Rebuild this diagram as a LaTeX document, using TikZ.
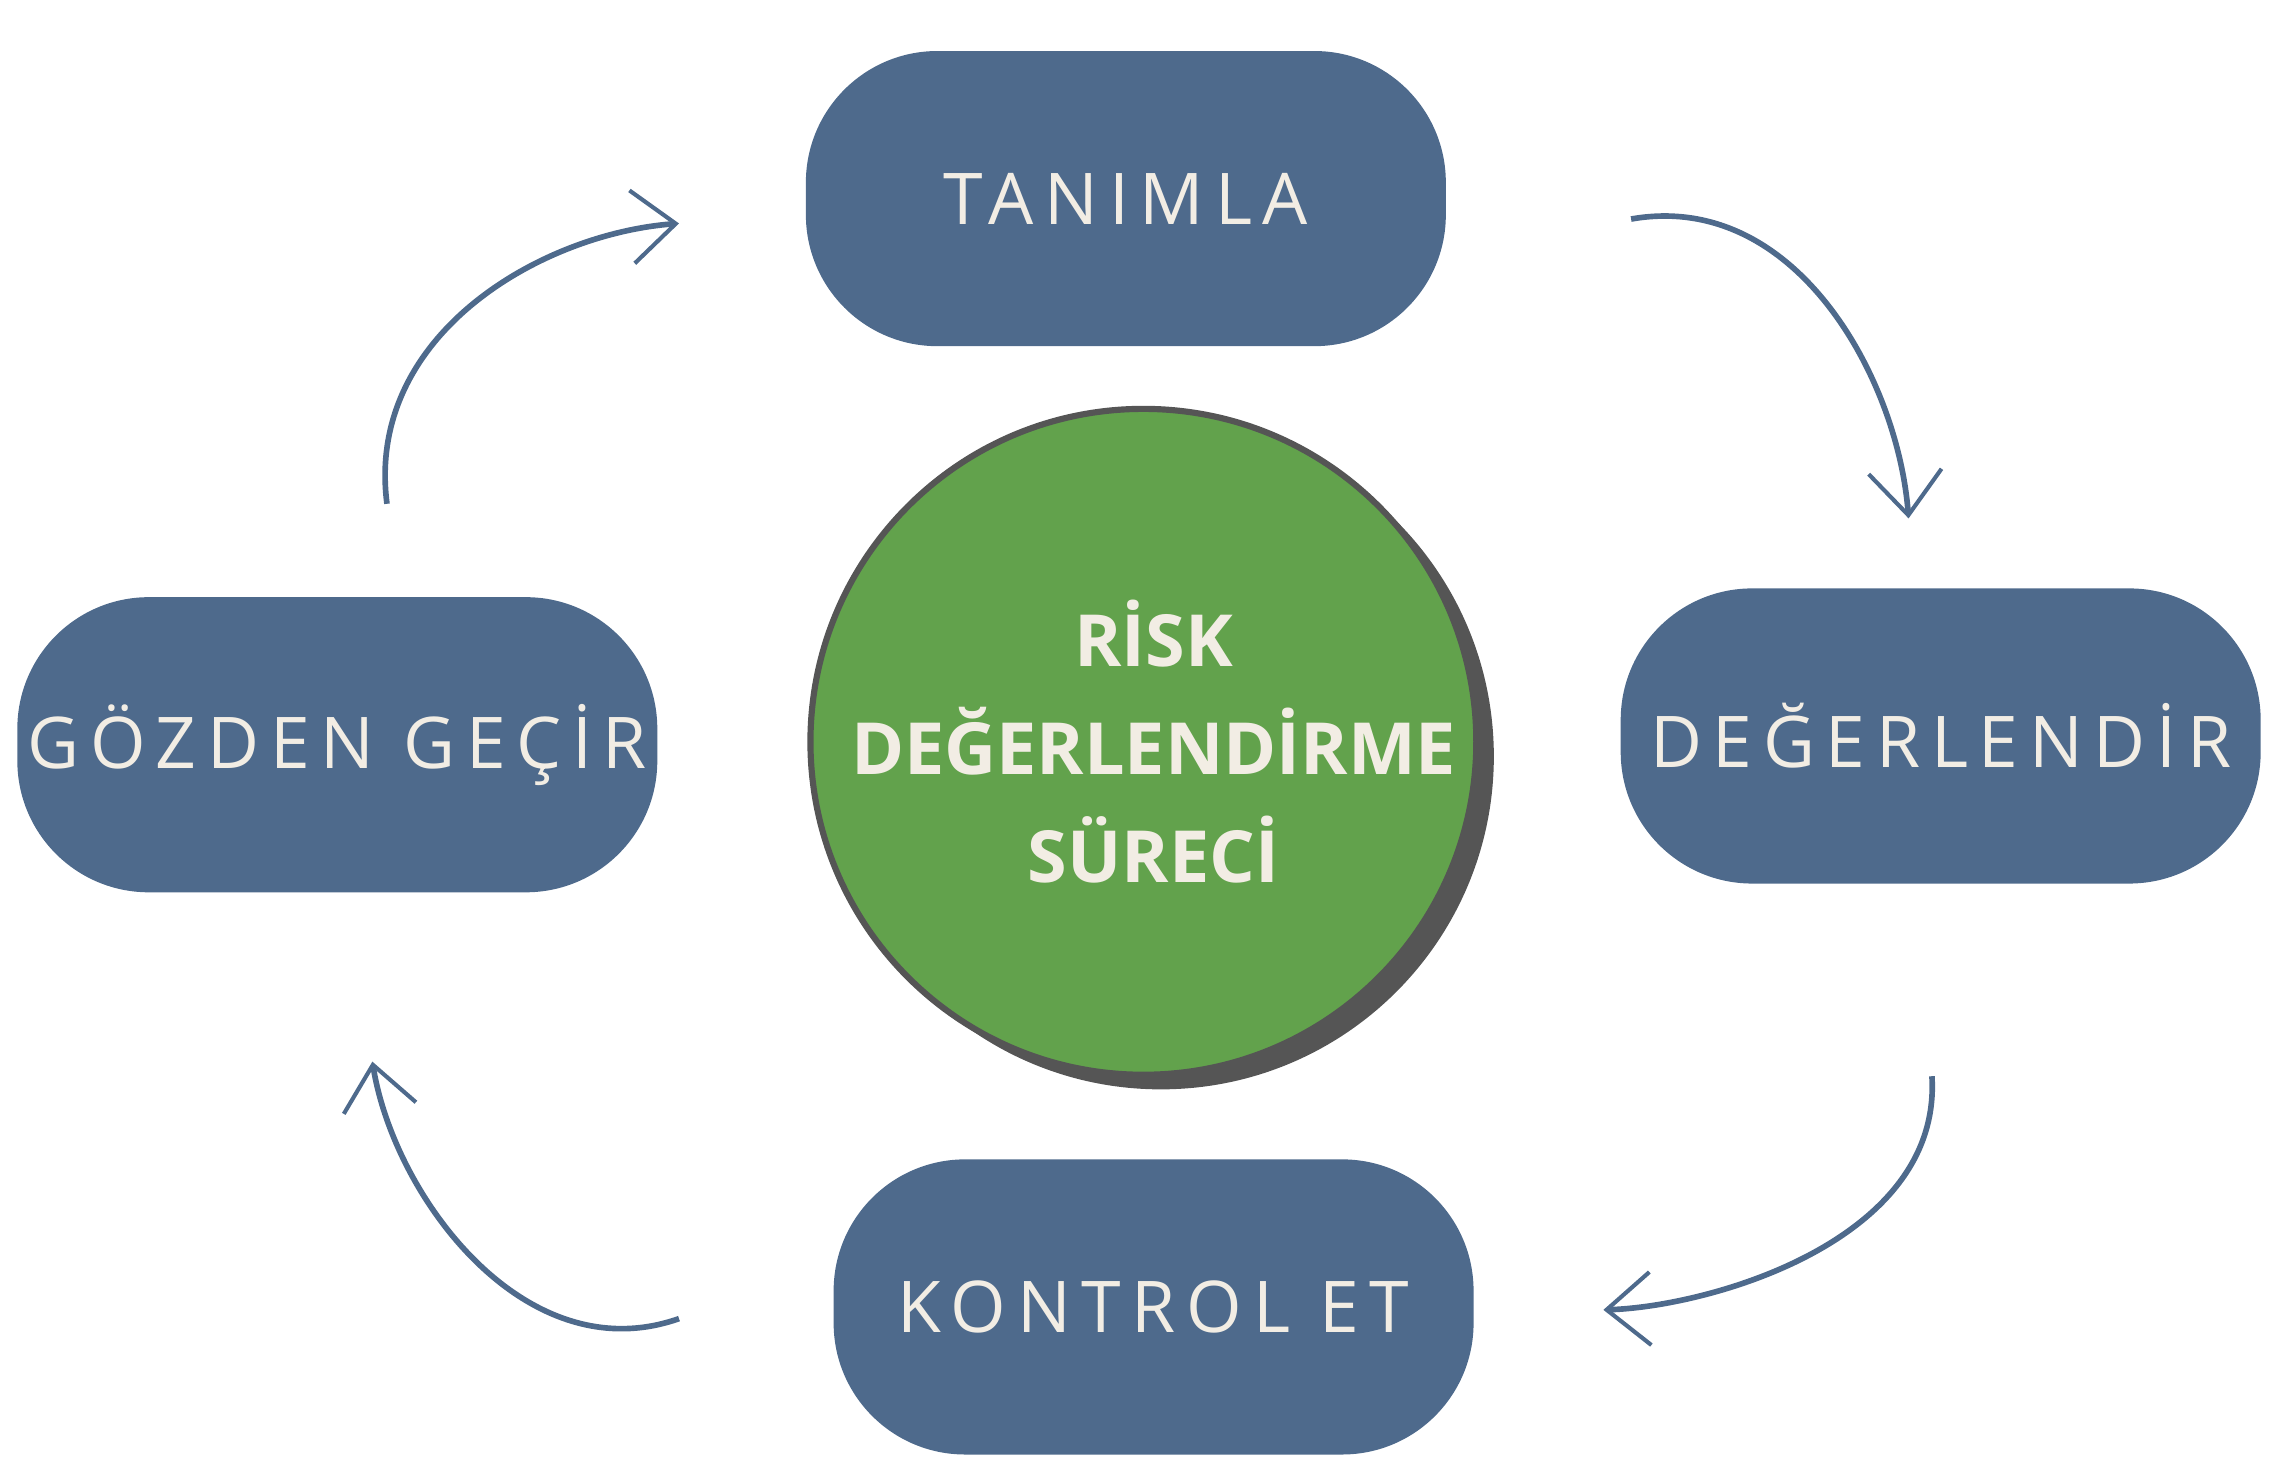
\documentclass[tikz,border=0pt]{standalone}
\usepackage{fontspec}
\setmainfont{Open Sans}
\newfontfamily\boxfont[LetterSpace=15]{Open Sans}
\newfontfamily\ctrfont{Open Sans Bold}
\usetikzlibrary{arrows.meta}
\definecolor{boxblue}{HTML}{4E6A8C}
\definecolor{ctrgreen}{HTML}{62A24C}
\definecolor{cream}{HTML}{F2EDE4}
\definecolor{shad}{HTML}{555555}
\tikzset{x=0.01cm,y=-0.01cm,
 stepbox/.style={fill=boxblue,rounded corners=0.9cm,minimum width=4.38cm,minimum height=2.02cm,inner sep=0pt,text=cream,font=\boxfont\fontsize{13.9}{17}\selectfont},
 cyc/.style={draw=boxblue,line width=1.1pt,-{Straight Barb[length=3mm,width=5mm,line width=0.8pt]}}}
\begin{document}
\begin{tikzpicture}
\useasboundingbox (0,0) rectangle (1560,1012);
\fill[shad] (795,518) circle[radius=228];
\filldraw[fill=ctrgreen,draw=shad,line width=1.2pt] (783,508) circle[radius=228];
\node[align=center,inner sep=0pt,text=cream,font=\ctrfont\fontsize{14}{21}\selectfont] (c) at (790,508) {RİSK\\DEĞERLENDİRME\\SÜRECİ};
\node[stepbox] (t) at (771,136) {TANIMLA};
\node[stepbox] (r) at (1329,504) {DEĞERLENDİR};
\node[stepbox] (l) at (231,510) {GÖZDEN GEÇİR};
\node[stepbox] (b) at (790,895) {KONTROL ET};
\coordinate (a1s) at (265,345); \coordinate (a1e) at (465,153);
\coordinate (a2s) at (1117,150); \coordinate (a2e) at (1307,355);
\coordinate (a3s) at (1323,737); \coordinate (a3e) at (1098,897);
\coordinate (a4s) at (465,903); \coordinate (a4e) at (255,727);
\draw[cyc] (a1s) .. controls (250,230) and (370,160) .. (a1e);
\draw[cyc] (a2s) .. controls (1230,130) and (1300,260) .. (a2e);
\draw[cyc] (a3s) .. controls (1330,850) and (1170,895) .. (a3e);
\draw[cyc] (a4s) .. controls (360,940) and (270,820) .. (a4e);
\end{tikzpicture}
\end{document}
